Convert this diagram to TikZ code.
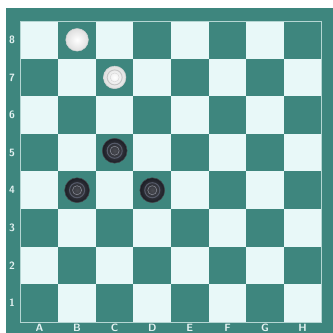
\documentclass[tikz,border=0pt]{standalone}
\usepackage{tikz}
\definecolor{boardteal}{RGB}{62,134,126}
\definecolor{boardlight}{RGB}{232,248,248}
\definecolor{labelgray}{RGB}{228,242,242}
\definecolor{manblack}{RGB}{28,30,38}
\definecolor{ringblack}{RGB}{85,90,105}

\begin{document}
\begin{tikzpicture}[
  coord/.style={text=labelgray, font=\fontsize{8}{9}\selectfont\sffamily\bfseries, inner sep=0pt},
  whiteman/.style={circle, minimum size=0.6cm, inner sep=0pt, draw=gray!35, inner color=white, outer color=gray!25},
  whitering/.style={whiteman, path picture={
      \draw[gray!45, line width=0.7pt] (path picture bounding box.center) circle (0.2);
      \draw[gray!30] (path picture bounding box.center) circle (0.12);}},
  blackring/.style={circle, minimum size=0.66cm, inner sep=0pt, draw=manblack!60!gray, inner color=manblack!80, outer color=manblack, path picture={
      \draw[ringblack, line width=0.8pt] (path picture bounding box.center) circle (0.2);
      \draw[ringblack!70] (path picture bounding box.center) circle (0.12);}}
]
\useasboundingbox (-0.55,-0.293) rectangle (8.306,8.559);
% frame
\fill[boardteal] (-0.391,-0.293) rectangle (8.306,8.346);
% squares
\foreach \i in {0,...,7}
  \foreach \j in {0,...,7} {
    \pgfmathparse{int(mod(\i+\j,2))}
    \ifnum\pgfmathresult=1
      \fill[boardlight] (\i,\j) rectangle ++(1,1);
    \else
      \fill[boardteal] (\i,\j) rectangle ++(1,1);
    \fi
  }
\draw[boardlight!70!boardteal, line width=0.4pt] (0,0) rectangle (8,8);
% coordinates
\foreach \r in {1,...,8}
  \node[coord] (row\r) at (-0.23,\r-0.5) {\r};
\foreach \c [count=\k from 0] in {A,B,C,D,E,F,G,H}
  \node[coord] (col\c) at (\k+0.5,-0.15) {\c};
% men
\node[whiteman] (b8) at (1.5,7.5) {};
\node[whitering] (c7) at (2.5,6.5) {};
\node[blackring] (c5) at (2.5,4.55) {};
\node[blackring] (b4) at (1.5,3.5) {};
\node[blackring] (d4) at (3.5,3.5) {};
\end{tikzpicture}
\end{document}
